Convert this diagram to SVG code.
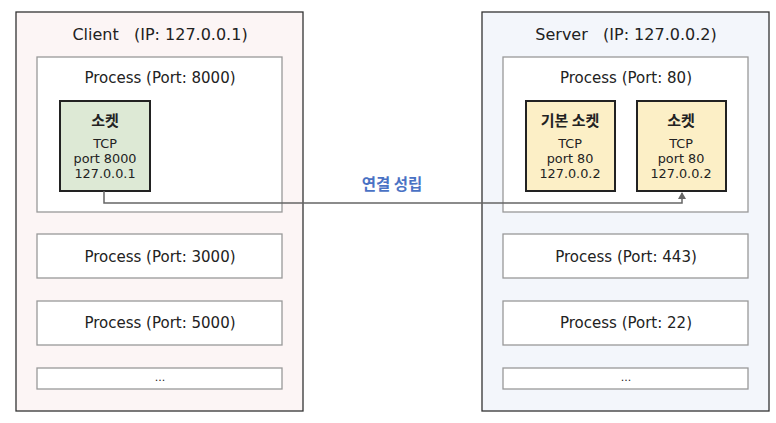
<svg xmlns="http://www.w3.org/2000/svg" width="776" height="423" viewBox="0 0 776 423">
<style>
text{font-family:"DejaVu Sans","Noto Sans CJK KR",sans-serif;fill:#222;text-anchor:middle}
.host{stroke:#333;stroke-width:1.3}
.proc{fill:#fff;stroke:#999;stroke-width:1.3}
.sock{stroke:#222;stroke-width:2}
.t1{font-size:16px}
.t2{font-size:15px}
.st{font-family:"Noto Sans CJK KR",sans-serif;font-size:15px;font-weight:bold}
.s{font-size:12.8px}
.d{font-size:11px}
.lbl{font-family:"Noto Sans CJK KR",sans-serif;font-size:15.5px;font-weight:bold;fill:#4a72c4}
</style>
<defs>
<marker id="ah" markerWidth="8" markerHeight="8" refX="6" refY="4" orient="auto" markerUnits="userSpaceOnUse">
<path d="M0,0 L7,4 L0,8 Z" fill="#666"/>
</marker>
</defs>
<rect width="776" height="423" fill="#fff"/>
<g id="client">
<rect class="host" x="16" y="12" width="287" height="399" fill="#fcf5f5"/>
<text class="t1" x="160" y="40" xml:space="preserve">Client   (IP: 127.0.0.1)</text>
</g>
<g id="server">
<rect class="host" x="482" y="12" width="287" height="399" fill="#f3f6fb"/>
<text class="t1" x="626" y="40" xml:space="preserve">Server   (IP: 127.0.0.2)</text>
</g>
<g id="client-proc-8000">
<rect class="proc" x="37" y="57" width="245" height="155"/>
<text class="t2" x="160" y="83">Process (Port: 8000)</text>
</g>
<g id="client-proc-3000">
<rect class="proc" x="37" y="234" width="245" height="44"/>
<text class="t2" x="160" y="262">Process (Port: 3000)</text>
</g>
<g id="client-proc-5000">
<rect class="proc" x="37" y="301" width="245" height="44"/>
<text class="t2" x="160" y="328">Process (Port: 5000)</text>
</g>
<g id="client-proc-more">
<rect class="proc" x="37" y="368" width="245" height="21"/>
<text class="d" x="160" y="381">...</text>
</g>
<g id="server-proc-80">
<rect class="proc" x="503" y="57" width="245" height="155"/>
<text class="t2" x="626" y="83">Process (Port: 80)</text>
</g>
<g id="server-proc-443">
<rect class="proc" x="503" y="234" width="245" height="44"/>
<text class="t2" x="626" y="262">Process (Port: 443)</text>
</g>
<g id="server-proc-22">
<rect class="proc" x="503" y="301" width="245" height="44"/>
<text class="t2" x="626" y="328">Process (Port: 22)</text>
</g>
<g id="server-proc-more">
<rect class="proc" x="503" y="368" width="245" height="21"/>
<text class="d" x="626" y="381">...</text>
</g>
<g id="client-socket">
<rect class="sock" x="60" y="101" width="90" height="90" fill="#dde9d5"/>
<text class="st" x="105" y="126">소켓</text>
<text class="s" x="105" y="148">TCP</text>
<text class="s" x="105" y="163">port 8000</text>
<text class="s" x="105" y="178">127.0.0.1</text>
</g>
<g id="server-listen-socket">
<rect class="sock" x="526" y="101" width="89" height="90" fill="#fcefc6"/>
<text class="st" x="570" y="126">기본 소켓</text>
<text class="s" x="570" y="148">TCP</text>
<text class="s" x="570" y="163">port 80</text>
<text class="s" x="570" y="178">127.0.0.2</text>
</g>
<g id="server-socket">
<rect class="sock" x="637" y="101" width="89" height="90" fill="#fcefc6"/>
<text class="st" x="681" y="126">소켓</text>
<text class="s" x="681" y="148">TCP</text>
<text class="s" x="681" y="163">port 80</text>
<text class="s" x="681" y="178">127.0.0.2</text>
</g>
<g id="connectors">
<polyline points="104,191 104,203 682,203 682,193" fill="none" stroke="#666" stroke-width="1.5" marker-end="url(#ah)"/>
<text class="lbl" x="392" y="190">연결 성립</text>
</g>
</svg>
